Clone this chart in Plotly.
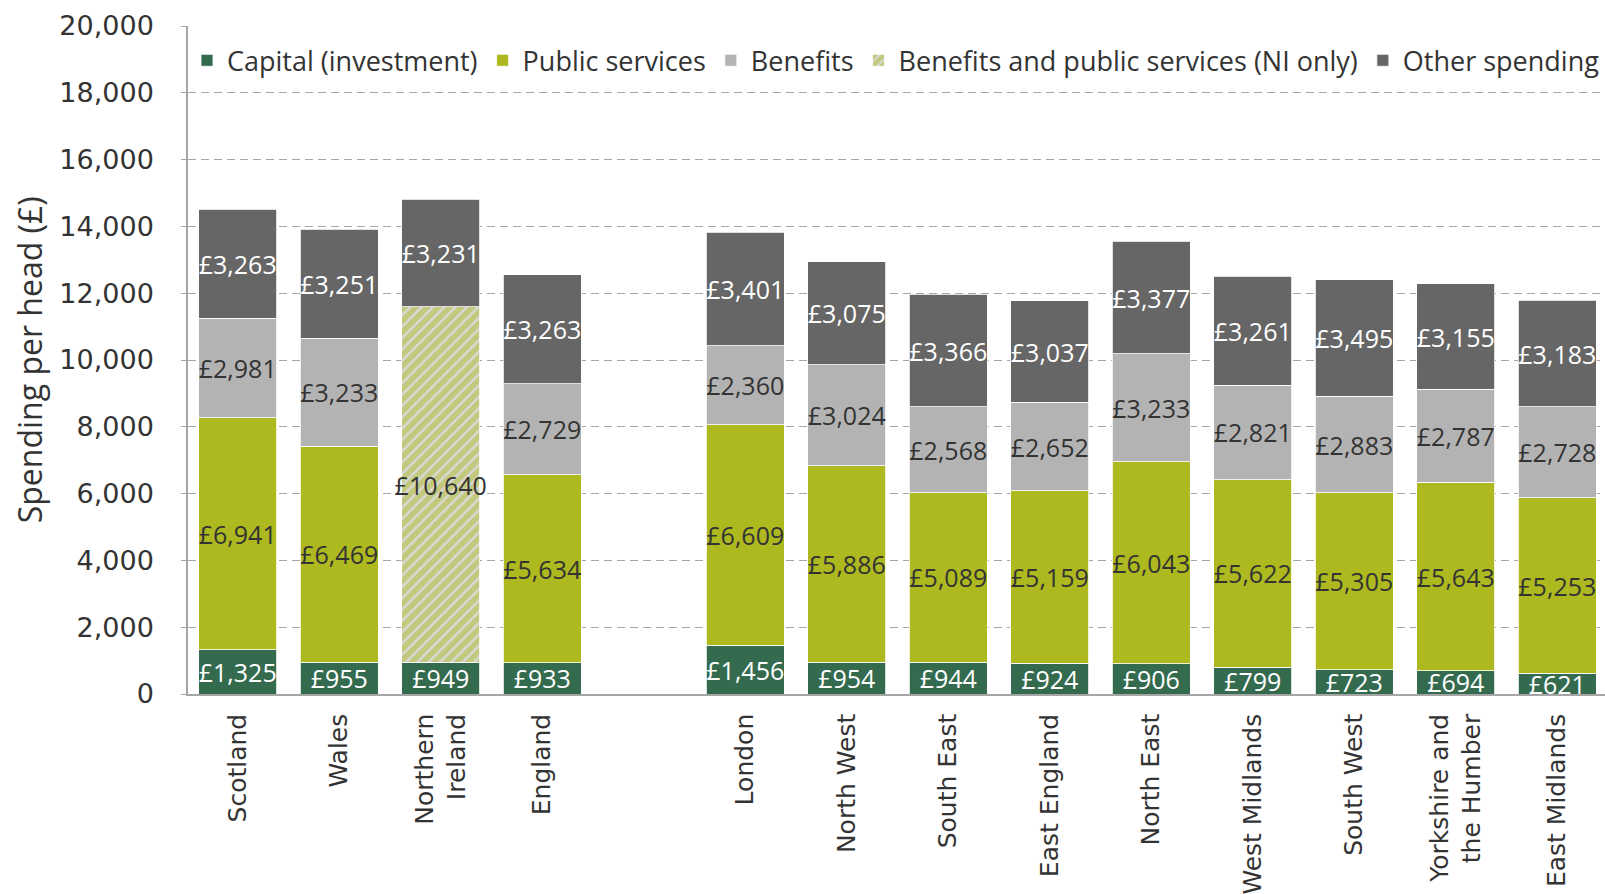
import plotly.graph_objects as go

# Identifiable public spending per head, by nation and English region (£)
regions = [
    "Scotland", "Wales", "Northern<br>Ireland", "England",
    "London", "North West", "South East", "East England", "North East",
    "West Midlands", "South West", "Yorkshire and<br>the Humber", "East Midlands",
]
capital = [1325, 955, 949, 933, 1456, 954, 944, 924, 906, 799, 723, 694, 621]
public_services = [6941, 6469, None, 5634, 6609, 5886, 5089, 5159, 6043, 5622, 5305, 5643, 5253]
benefits = [2981, 3233, None, 2729, 2360, 3024, 2568, 2652, 3233, 2821, 2883, 2787, 2728]
ni_combined = [None, None, 10640, None, None, None, None, None, None, None, None, None, None]
other_spending = [3263, 3251, 3231, 3263, 3401, 3075, 3366, 3037, 3377, 3261, 3495, 3155, 3183]

y_ticks = list(range(0, 20001, 2000))

# blank slot separating the nations from the English regions
spacer = " "
category_order = regions[:4] + [spacer] + regions[4:]

GREEN_DARK = "#346b4f"
GREEN_LIME = "#adb91f"
GREY_LIGHT = "#b3b3b3"
GREY_DARK = "#666666"
TEXT_DARK = "#333333"

label_font = "Open Sans"
axis_font = "DejaVu Sans"

fig = go.Figure()


def add_segment(name, values, color, text_color, pattern=None):
    marker = dict(color=color, line=dict(color="white", width=0.8))
    if pattern is not None:
        marker["pattern"] = pattern
    fig.add_trace(go.Bar(
        name=name,
        x=regions,
        y=values,
        marker=marker,
        texttemplate="£%{y:,.0f}",
        textposition="inside",
        insidetextanchor="middle",
        textangle=0,
        constraintext="none",
        textfont=dict(family=label_font, size=25, color=text_color),
        hoverinfo="skip",
    ))


add_segment("Capital (investment)", capital, GREEN_DARK, "white")
add_segment("Public services", public_services, GREEN_LIME, TEXT_DARK)
add_segment("Benefits", benefits, GREY_LIGHT, TEXT_DARK)
add_segment(
    "Benefits and public services (NI only)", ni_combined, "#d9d9d9", TEXT_DARK,
    pattern=dict(shape="/", fgcolor=GREEN_LIME, bgcolor="#d9d9d9",
                 size=8, solidity=0.7, fillmode="overlay"),
)
add_segment("Other spending", other_spending, GREY_DARK, "white")

fig.update_layout(
    width=1605,
    height=894,
    barmode="stack",
    bargap=0.234,
    plot_bgcolor="white",
    paper_bgcolor="white",
    margin=dict(l=188, r=0, t=26, b=200, pad=0),
    showlegend=True,
    legend=dict(
        orientation="h",
        x=0.0,
        xanchor="left",
        y=0.948,
        yanchor="middle",
        bgcolor="rgba(255,255,255,0)",
        font=dict(family=label_font, size=27, color=TEXT_DARK),
        itemclick=False,
        itemdoubleclick=False,
        traceorder="normal",
    ),
    xaxis=dict(
        type="category",
        categoryorder="array",
        categoryarray=category_order,
        range=[-0.49, 13.47],
        showline=True,
        linecolor="#a6a6a6",
        linewidth=1.5,
        showgrid=False,
        ticks="",
        tickangle=-90,
        ticklabelstandoff=8,
        tickfont=dict(family=axis_font, size=25, color=TEXT_DARK),
        automargin=False,
    ),
    yaxis=dict(
        range=[0, 20000],
        tickvals=y_ticks,
        tickformat=",",
        showline=True,
        linecolor="#a6a6a6",
        linewidth=1.5,
        ticks="outside",
        ticklen=5,
        tickcolor="#a6a6a6",
        ticklabelstandoff=22,
        showgrid=True,
        gridcolor="#a6a6a6",
        gridwidth=1.3,
        griddash="8px,5px",
        zeroline=False,
        tickfont=dict(family=axis_font, size=27, color=TEXT_DARK),
        automargin=False,
    ),
    annotations=[
        dict(
            text="Spending per head (£)",
            xref="paper", yref="paper",
            x=-0.112, y=0.5,
            xanchor="center", yanchor="middle",
            textangle=-90,
            showarrow=False,
            font=dict(family=label_font, size=32, color=TEXT_DARK),
        )
    ],
)

fig.write_html("out.html")
